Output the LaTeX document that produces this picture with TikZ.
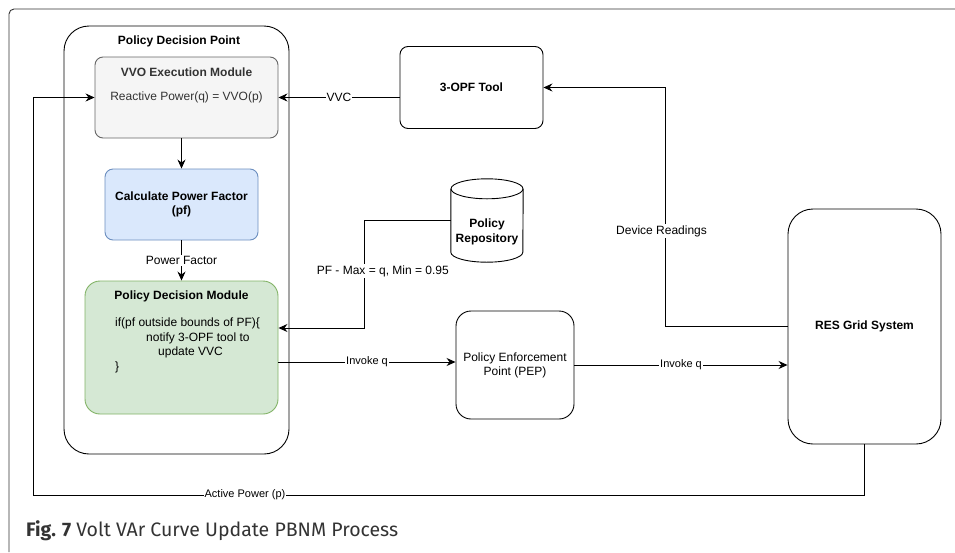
\documentclass[tikz,border=0pt]{standalone}
\usepackage{fontspec}
\setmainfont{Liberation Sans}
\newfontfamily\capfont{Fira Sans}
\usepackage{tikz}
\usetikzlibrary{arrows.meta,positioning,calc}
\definecolor{vvofill}{HTML}{F5F5F5}
\definecolor{vvoline}{HTML}{666666}
\definecolor{vvotext}{HTML}{333333}
\definecolor{pffill}{HTML}{DAE8FC}
\definecolor{pfline}{HTML}{6C8EBF}
\definecolor{pdmfill}{HTML}{D5E8D4}
\definecolor{pdmline}{HTML}{82B366}
\definecolor{frame}{HTML}{333333}
\tikzstyle{box} = [draw, line width=0.9pt, rounded corners=8pt, align=center, inner sep=0pt, font=\fontsize{12}{14}\selectfont]
\tikzstyle{textonly} = [draw=none, fill=none, align=center, inner sep=0pt, font=\fontsize{12}{14}\selectfont]
\tikzstyle{tline} = [draw, line width=0.9pt]
\tikzstyle{tedge} = [draw, line width=0.9pt, -{Stealth[length=9pt,width=8pt,inset=3pt]}]
\tikzstyle{elabel} = [fill=white, inner sep=1pt, font=\fontsize{12}{14}\selectfont]
\tikzstyle{slabel} = [fill=white, inner sep=1pt, font=\fontsize{11}{13}\selectfont]

\begin{document}
\begin{tikzpicture}[x=1pt, y=-1pt]
\useasboundingbox (0,0) rectangle (955,552);

% frame and caption ======================
\draw[frame, line width=0.9pt, rounded corners=5pt] (9,552) -- (9,9) -- (955,9);
\node[anchor=base west, text=frame, inner sep=0pt, font=\capfont\fontsize{19.5}{24}\selectfont] (caption) at (26,536) {\textbf{Fig. 7}\hspace{5pt}Volt VAr Curve Update PBNM Process};

% nodes
\node[box, rounded corners=25pt, minimum width=225pt, minimum height=428pt] (pdp) at (176.5,240) {};
\node[textonly, font=\bfseries\fontsize{12}{14}\selectfont] (pdptitle) at (179,41) {Policy Decision Point};
\node[box, fill=vvofill, draw=vvoline, text=vvotext, minimum width=183pt, minimum height=81pt] (vvo) at (186.5,97.5) {Reactive Power(q) = VVO(p)};
\node[textonly, text=vvotext, font=\bfseries\fontsize{12}{14}\selectfont] (vvotitle) at (186.5,72) {VVO Execution Module};
\node[box, fill=pffill, draw=pfline, font=\bfseries\fontsize{12}{14}\selectfont, minimum width=153pt, minimum height=71pt] (calc) at (181.5,204.5) {Calculate Power Factor\\(pf)};
\node[box, fill=pdmfill, draw=pdmline, rounded corners=15pt, minimum width=193pt, minimum height=133pt] (pdm) at (181.5,347.5) {};
\node[textonly, font=\bfseries\fontsize{12}{14}\selectfont] (pdmtitle) at (181.5,296) {Policy Decision Module};
\node[textonly, align=left, anchor=north west, font=\fontsize{12}{14.5}\selectfont] (pdmcode) at (115,318) {if(pf outside bounds of PF)\{\\\hspace*{31pt}notify 3-OPF tool to\\\hspace*{43pt}update VVC\\\}};
\node[box, minimum width=143pt, minimum height=82pt, font=\bfseries\fontsize{12}{14}\selectfont] (opf) at (471.5,87.5) {3-OPF Tool};
\node[textonly, minimum width=72pt, minimum height=83pt] (rep) at (487,220.5) {};
\node[textonly, font=\bfseries\fontsize{12}{14.5}\selectfont] (reptext) at (487,232) {Policy\\Repository};
\node[box, rounded corners=15pt, minimum width=118pt, minimum height=108pt] (pep) at (515,365) {Policy Enforcement\\Point (PEP)};
\node[box, rounded corners=25pt, minimum width=153pt, minimum height=235pt, font=\bfseries\fontsize{12}{14}\selectfont] (res) at (864.5,326.5) {RES Grid System};

% repository drum
\draw[tline] ($(rep.north)+(0,10)$) ellipse [x radius=36, y radius=10];
\draw[tline] ($(rep.north west)+(0,10)$) -- ($(rep.south west)+(0,-10)$) arc [start angle=180, end angle=0, x radius=36, y radius=10] -- ($(rep.north east)+(0,10)$);

% edge points
\coordinate (pdmin) at ($(pdm.east)+(0,-19.5)$);
\coordinate (pdmout) at ($(pdm.east)+(0,14.5)$);

% edges
\path[tedge] (opf.west |- vvo.east) -- node[elabel] {VVC} (vvo.east);
\path[tedge] (vvo.south -| calc.north) -- (calc.north);
\path[tedge] (calc.south) -- node[elabel] {Power Factor} (pdm.north);
\path[tedge] (rep.west) -- ++(-86,0) coordinate (pfbend) |- (pdmin);
\node[elabel] (pflabel) at ([xshift=18pt]pfbend |- 0,271) {PF - Max = q, Min = 0.95};
\path[tedge] (pdmout) -- node[slabel] {Invoke q} (pdmout -| pep.west);
\path[tedge] (pep.east) -- node[slabel] {Invoke q} (pep.east -| res.west);
\path[tedge] (res.west) -- ++(-122,0) coordinate (drbend) |- (opf.east);
\node[elabel] (drlabel) at ([xshift=-4pt]drbend |- 0,231) {Device Readings};
\path[tedge] (res.south) -- ++(0,51) -| ([xshift=-61pt]vvo.west) -- (vvo.west);
\node[slabel] (aplabel) at (245,495) {Active Power (p)};

\end{tikzpicture}
\end{document}
